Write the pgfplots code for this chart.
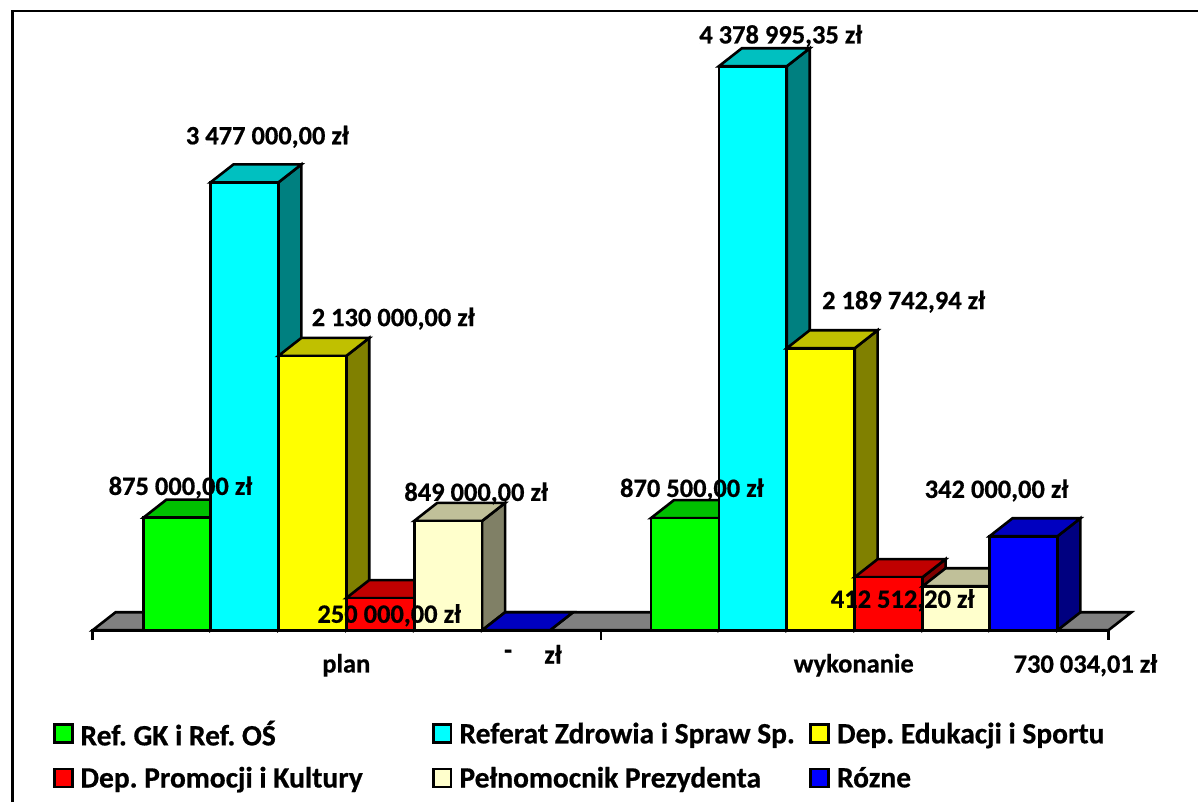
\documentclass[border=0pt]{standalone}
\usepackage{pgfplots}
\pgfplotsset{compat=1.18}
\usepackage{fontspec}
\setmainfont{Carlito}[BoldFeatures={FakeBold=0.6}]
\frenchspacing
\definecolor{cG}{HTML}{00FF00}\definecolor{cGt}{HTML}{00C000}\definecolor{cGs}{HTML}{008000}
\definecolor{cC}{HTML}{00FFFF}\definecolor{cCt}{HTML}{00C0C0}\definecolor{cCs}{HTML}{008080}
\definecolor{cY}{HTML}{FFFF00}\definecolor{cYt}{HTML}{C0C000}\definecolor{cYs}{HTML}{808000}
\definecolor{cR}{HTML}{FF0000}\definecolor{cRt}{HTML}{C00000}\definecolor{cRs}{HTML}{800000}
\definecolor{cP}{HTML}{FFFFCC}\definecolor{cPt}{HTML}{C0C099}\definecolor{cPs}{HTML}{808066}
\definecolor{cB}{HTML}{0000FF}\definecolor{cBt}{HTML}{0000C0}\definecolor{cBs}{HTML}{000080}
\definecolor{cF}{HTML}{808080}
% #1 x left, #2 x right, #3 x left+depth, #4 x right+depth, #5 value, #6 value+depth, #7 colour
\newcommand{\bart}[7]{%
 \addplot[forget plot,draw=black,line width=2.6pt,fill=#7s] coordinates {(#2,0)(#4,139590)(#4,#6)(#2,#5)} --cycle;
 \addplot[forget plot,draw=black,line width=2.6pt,fill=#7t] coordinates {(#1,#5)(#3,#6)(#4,#6)(#2,#5)} --cycle;
 \addplot[forget plot,draw=black,line width=2.6pt,fill=#7] coordinates {(#1,0)(#1,#5)(#2,#5)(#2,0)} --cycle;
}
\newcommand{\lab}[3]{\node[font=\fontsize{26.5}{28}\selectfont\bfseries,inner sep=0pt,anchor=center] at (axis cs:#1,#2) {#3};}
\begin{document}
\begin{tikzpicture}
\begin{axis}[
  scale only axis,width=1199pt,height=803pt,
  xmin=-0.7,xmax=1198.3,ymin=-1333860,ymax=4893405,
  hide axis,clip=false,no markers,
  legend image code/.code={\draw[#1,draw=black,line width=2.8pt] (0pt,-9pt) rectangle (18pt,9pt);},
  legend columns=3,
  legend cell align=left,
  legend style={draw=none,fill=none,at={(axis cs:51.9,-700000)},anchor=north west,
    font=\fontsize{29.5}{32}\selectfont\bfseries,inner sep=0pt,
    row sep=20pt,
    /tikz/column 1/.style={column sep=4pt},
    /tikz/column 3/.style={column sep=4pt},
    /tikz/column 5/.style={column sep=4pt},
    /tikz/column 2/.style={column sep=66pt},
    /tikz/column 4/.style={column sep=11.5pt},
    nodes={inner xsep=3pt,inner ysep=0pt}},
]
\path (rel axis cs:0,0) rectangle (rel axis cs:1,1);
\addlegendimage{fill=cG}\addlegendentry{Ref. GK i Ref. OŚ}
\addlegendimage{fill=cC}\addlegendentry{Referat Zdrowia i Spraw Sp.}
\addlegendimage{fill=cY}\addlegendentry{Dep. Edukacji i Sportu}
\addlegendimage{fill=cR}\addlegendentry{Dep. Promocji i Kultury}
\addlegendimage{fill=cP}\addlegendentry{Pełnomocnik Prezydenta}
\addlegendimage{fill=cB}\addlegendentry{Rózne}
% frame
\addplot[forget plot,draw=black,line width=2.8pt] coordinates {(11.5,-1333860)(11.5,4808100)(1198.3,4808100)};
% floor
\addplot[forget plot,draw=black,line width=2.6pt,fill=cF] coordinates {(92,0)(115,139590)(1132,139590)(1109,0)} --cycle;
\addplot[forget plot,draw=black,line width=2.6pt] coordinates {(92,-77550)(92,0)(1109,0)(1109,-77550)};
\addplot[forget plot,draw=black,line width=2.6pt] coordinates {(601,0)(601,-77550)};
% plan
\bart{143}{210}{166}{233}{875000}{1014590}{cG}
\bart{210}{278}{233}{301}{3477000}{3616590}{cC}
\bart{278}{346}{301}{369}{2130000}{2269590}{cY}
\bart{346}{414}{369}{437}{250000}{389590}{cR}
\bart{414}{482}{437}{505}{849000}{988590}{cP}
\bart{482}{550}{505}{573}{0}{139590}{cB}
% wykonanie
\bart{651}{719}{674}{742}{870500}{1010090}{cG}
\bart{719}{787}{742}{810}{4378995.35}{4518585.35}{cC}
\bart{787}{855}{810}{878}{2189742.94}{2329332.94}{cY}
\bart{855}{923}{878}{946}{412512.20}{552102.2}{cR}
\bart{923}{990}{946}{1013}{342000}{481590}{cP}
\bart{990}{1058}{1013}{1081}{730034.01}{869624.01}{cB}
% labels
\lab{180}{1108965}{875 000,00 zł}
\lab{267}{3830970}{3 477 000,00 zł}
\lab{393}{2419560}{2 130 000,00 zł}
\lab{389}{116325}{250 000,00 zł}
\lab{476}{1062435}{849 000,00 zł}
\lab{508}{-186120}{-}
\lab{553}{-186120}{zł}
\lab{346}{-271425}{plan}
\lab{854}{-271425}{wykonanie}
\lab{1086}{-271425}{730 034,01 zł}
\lab{692}{1093455}{870 500,00 zł}
\lab{781}{4614225}{4 378 995,35 zł}
\lab{904}{2551395}{2 189 742,94 zł}
\lab{903}{232650}{412 512,20 zł}
\lab{997}{1085700}{342 000,00 zł}
\end{axis}
\end{tikzpicture}
\end{document}
